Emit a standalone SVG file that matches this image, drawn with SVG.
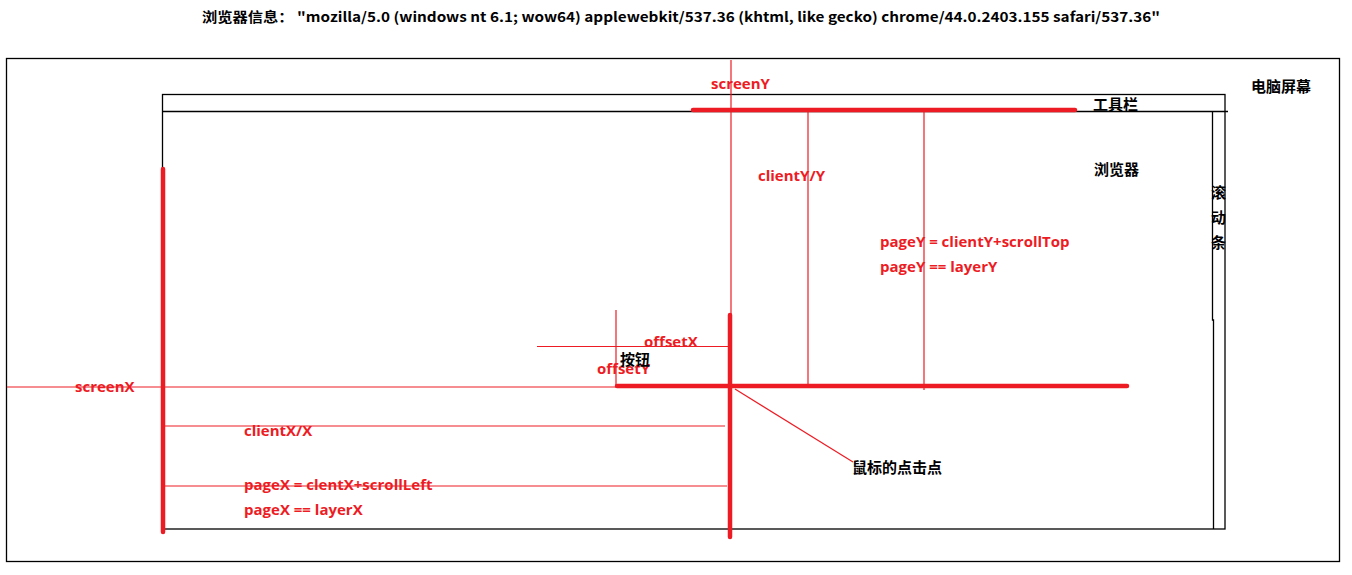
<svg xmlns="http://www.w3.org/2000/svg" width="1352" height="575" viewBox="0 0 1352 575">
<style>
.blk{stroke:#000;stroke-width:1.3;fill:none}
.thin{stroke:#ed1c24;stroke-width:1.2;fill:none}
.thick{stroke:#ed1c24;stroke-width:4.5;fill:none;stroke-linecap:round}
.rl{fill:#ed1c24;font-family:"Open Sans","Noto Sans",sans-serif;font-weight:bold;font-size:15px}
.bl{fill:#000;font-family:"Noto Sans CJK SC","Noto Sans",sans-serif;font-weight:bold;font-size:15px}
.title{fill:#000;font-family:"Noto Sans CJK SC","Open Sans",sans-serif;font-weight:bold;font-size:13.5px}
</style>
<rect width="1352" height="575" fill="#fff"/>
<g id="title"><text class="title" x="202" y="22" textLength="958" lengthAdjust="spacingAndGlyphs">浏览器信息： "mozilla/5.0 (windows nt 6.1; wow64) applewebkit/537.36 (khtml, like gecko) chrome/44.0.2403.155 safari/537.36"</text></g>
<g id="screen"><rect class="blk" x="6.5" y="58.5" width="1333" height="503"/><text class="bl" x="1251" y="92">电脑屏幕</text></g>
<g id="browser"><rect class="blk" x="162.5" y="94.5" width="1062.5" height="434.5"/><line class="blk" x1="162" y1="111.5" x2="1228" y2="111.5"/><text class="bl" x="1094" y="175">浏览器</text></g>
<g id="toolbar"><text class="bl" x="1093" y="110">工具栏</text></g>
<g id="scrollbar"><polyline class="blk" points="1212.5,112 1212.5,320 1213.5,320 1213.5,529"/><text class="bl" x="1211" y="198">滚</text><text class="bl" x="1211" y="223">动</text><text class="bl" x="1211" y="248">条</text></g>
<g id="connectors">
<line class="thin" x1="731" y1="60" x2="731" y2="315"/>
<line class="thick" x1="693" y1="110" x2="1075" y2="110"/>
<line class="thin" x1="808" y1="111" x2="808" y2="386"/>
<line class="thin" x1="924" y1="111" x2="924" y2="390"/>
<line class="thick" x1="163" y1="169" x2="163" y2="532"/>
<line class="thick" x1="730" y1="315" x2="730" y2="537"/>
<line class="thick" x1="617" y1="386" x2="1127" y2="386"/>
<line class="thin" x1="7" y1="387" x2="617" y2="387"/>
<line class="thin" x1="537" y1="346.5" x2="730" y2="346.5"/>
<line class="thin" x1="616" y1="310" x2="616" y2="386"/>
<line class="thin" x1="163" y1="426" x2="725" y2="426"/>
<line class="thin" x1="163" y1="486" x2="727" y2="486"/>
<line class="thin" x1="735" y1="389" x2="853" y2="462"/>
</g>
<g id="labels">
<text class="rl" x="711" y="89">screenY</text>
<text class="rl" x="758" y="181">clientY/Y</text>
<text class="rl" x="880" y="247">pageY = clientY+scrollTop</text>
<text class="rl" x="880" y="272">pageY == layerY</text>
<text class="rl" x="644" y="347">offsetX</text>
<text class="rl" x="597" y="374">offsetY</text>
<text class="bl" x="620" y="365">按钮</text>
<text class="rl" x="75" y="392">screenX</text>
<text class="rl" x="244" y="436">clientX/X</text>
<text class="rl" x="244" y="490">pageX = clentX+scrollLeft</text>
<text class="rl" x="244" y="515">pageX == layerX</text>
<text class="bl" x="852" y="473">鼠标的点击点</text>
</g>
</svg>
